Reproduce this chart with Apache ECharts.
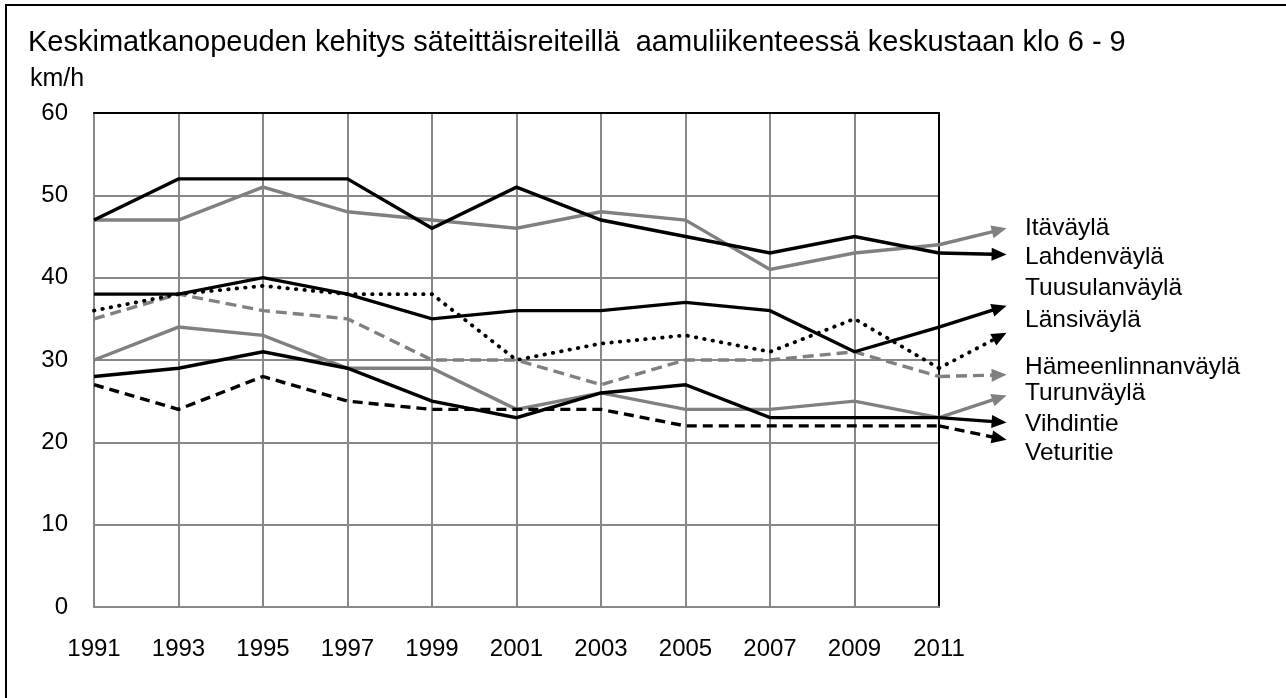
<!DOCTYPE html>
<html>
<head>
<meta charset="utf-8">
<script src="https://cdn.jsdelivr.net/npm/echarts@6/dist/echarts.min.js"></script>
<style>
html,body{margin:0;padding:0;background:#fff;}
#chart{width:1286px;height:698px;}
</style>
</head>
<body>
<div id="chart"></div>
<script>
const titleText = 'Keskimatkanopeuden kehitys säteittäisreiteillä  aamuliikenteessä keskustaan klo 6 - 9';
const unitText = 'km/h';
const years = [1991, 1993, 1995, 1997, 1999, 2001, 2003, 2005, 2007, 2009, 2011];
const names = ['Itäväylä', 'Lahdenväylä', 'Tuusulanväylä', 'Länsiväylä', 'Hämeenlinnanväylä', 'Turunväylä', 'Vihdintie', 'Veturitie'];
const itavayla          = [47, 47, 51, 48, 47, 46, 48, 47, 41, 43, 44];
const lahdenvayla       = [47, 52, 52, 52, 46, 51, 47, 45, 43, 45, 43];
const tuusulanvayla     = [38, 38, 40, 38, 35, 36, 36, 37, 36, 31, 34];
const lansivayla        = [36, 38, 39, 38, 38, 30, 32, 33, 31, 35, 29];
const hameenlinnanvayla = [35, 38, 36, 35, 30, 30, 27, 30, 30, 31, 28];
const turunvayla        = [30, 34, 33, 29, 29, 24, 26, 24, 24, 25, 23];
const vihdintie         = [28, 29, 31, 29, 25, 23, 26, 27, 23, 23, 23];
const veturitie         = [27, 24, 28, 25, 24, 24, 24, 22, 22, 22, 22];
// arrow continuation after 2011 (tip of each arrow)
const arrowEndYear = 2012.6;
const arrowEnds = [46.0, 42.8, 36.6, 33.3, 28.2, 25.7, 22.4, 20.3];
const yTicks = [0, 10, 20, 30, 40, 50, 60];

const allValues = [itavayla, lahdenvayla, tuusulanvayla, lansivayla, hameenlinnanvayla, turunvayla, vihdintie, veturitie];
const GRAY = '#808080';
const styles = [
  {color: GRAY, type: 'solid'},
  {color: '#000', type: 'solid'},
  {color: '#000', type: 'solid'},
  {color: '#000', type: [0.5, 8], cap: 'round', width: 3.8},
  {color: GRAY, type: [11, 6]},
  {color: GRAY, type: 'solid'},
  {color: '#000', type: 'solid'},
  {color: '#000', type: [10, 6]}
];
const labelY = [228, 257, 288, 320, 367, 393, 424, 453];

const FONT = '"Liberation Sans", Arial, sans-serif';
const LW = 3.4;
const chart = echarts.init(document.getElementById('chart'), null, {renderer: 'canvas'});

const lineSeries = allValues.map((vals, si) => {
  const st = styles[si];
  return {
    name: names[si],
    type: 'line',
    data: years.map((y, i) => [y, vals[i]]),
    symbol: 'none',
    z: st.color === GRAY ? 9 : 10,
    lineStyle: {color: st.color, width: st.width || LW, type: st.type, cap: st.cap || 'butt', join: 'miter'},
    emphasis: {disabled: true},
    animation: false
  };
});

const arrowSeries = allValues.map((vals, si) => {
  const st = styles[si];
  return {
    type: 'custom',
    clip: false,
    z: st.color === GRAY ? 9 : 10,
    silent: true,
    animation: false,
    encode: {x: [0, 2], y: [1, 3]},
    data: [[years[years.length - 1], vals[vals.length - 1], arrowEndYear, arrowEnds[si]]],
    renderItem: function (params, api) {
      const p0 = api.coord([api.value(0), api.value(1)]);
      const p1 = api.coord([api.value(2), api.value(3)]);
      const dx = p1[0] - p0[0], dy = p1[1] - p0[1];
      const len = Math.sqrt(dx * dx + dy * dy);
      const ux = dx / len, uy = dy / len;
      const headL = 15, headW = 6.5;
      const bx = p1[0] - ux * headL, by = p1[1] - uy * headL;
      const lineDash = Array.isArray(st.type) ? st.type : null;
      return {
        type: 'group',
        children: [{
          type: 'line',
          shape: {x1: p0[0], y1: p0[1], x2: bx + ux * 2, y2: by + uy * 2},
          style: {stroke: st.color, lineWidth: st.width || LW, lineDash: lineDash, lineCap: st.cap || 'butt', fill: null}
        }, {
          type: 'polygon',
          shape: {points: [[p1[0], p1[1]], [bx - uy * headW, by + ux * headW], [bx + uy * headW, by - ux * headW]]},
          style: {fill: st.color, stroke: null}
        }]
      };
    }
  };
});

const option = {
  animation: false,
  backgroundColor: '#fff',
  textStyle: {fontFamily: FONT},
  grid: {left: 94, right: 347, top: 113, bottom: 91, containLabel: false},
  xAxis: [{
    type: 'value', min: 1991, max: 2011, interval: 2,
    axisLine: {show: true, lineStyle: {color: '#888', width: 2}},
    axisTick: {show: false},
    splitLine: {show: true, lineStyle: {color: '#888', width: 2}},
    axisLabel: {color: '#000', fontSize: 24, fontFamily: FONT, margin: 30, formatter: v => String(v)}
  }, {
    type: 'value', position: 'top', min: 1991, max: 2011,
    axisLine: {show: true, onZero: false, lineStyle: {color: '#000', width: 2}},
    axisTick: {show: false}, axisLabel: {show: false}, splitLine: {show: false}
  }],
  yAxis: [{
    type: 'value', min: yTicks[0], max: yTicks[yTicks.length - 1], interval: 10,
    axisLine: {show: true, lineStyle: {color: '#888', width: 2}},
    axisTick: {show: false},
    splitLine: {show: true, lineStyle: {color: '#888', width: 2}},
    axisLabel: {color: '#000', fontSize: 24, fontFamily: FONT, margin: 26}
  }, {
    type: 'value', position: 'right', min: 0, max: 60,
    axisLine: {show: true, onZero: false, lineStyle: {color: '#000', width: 2}},
    axisTick: {show: false}, axisLabel: {show: false}, splitLine: {show: false}
  }],
  graphic: [
    {type: 'rect', shape: {x: 6, y: 5, width: 1400, height: 800}, style: {fill: 'none', stroke: '#000', lineWidth: 2}, z: 100, silent: true},
    {type: 'text', left: 28, top: 28, style: {text: titleText, font: '29px ' + FONT, fill: '#000'}, z: 100},
    {type: 'text', left: 30, top: 67, style: {text: unitText, font: '25px ' + FONT, fill: '#000'}, z: 100}
  ].concat(names.map((n, i) => ({
    type: 'text', x: 1025, y: labelY[i],
    style: {text: n, font: '24.5px ' + FONT, fill: '#000', textVerticalAlign: 'middle', textAlign: 'left'},
    z: 100
  }))),
  series: lineSeries.concat(arrowSeries)
};
chart.setOption(option);
</script>
</body>
</html>
